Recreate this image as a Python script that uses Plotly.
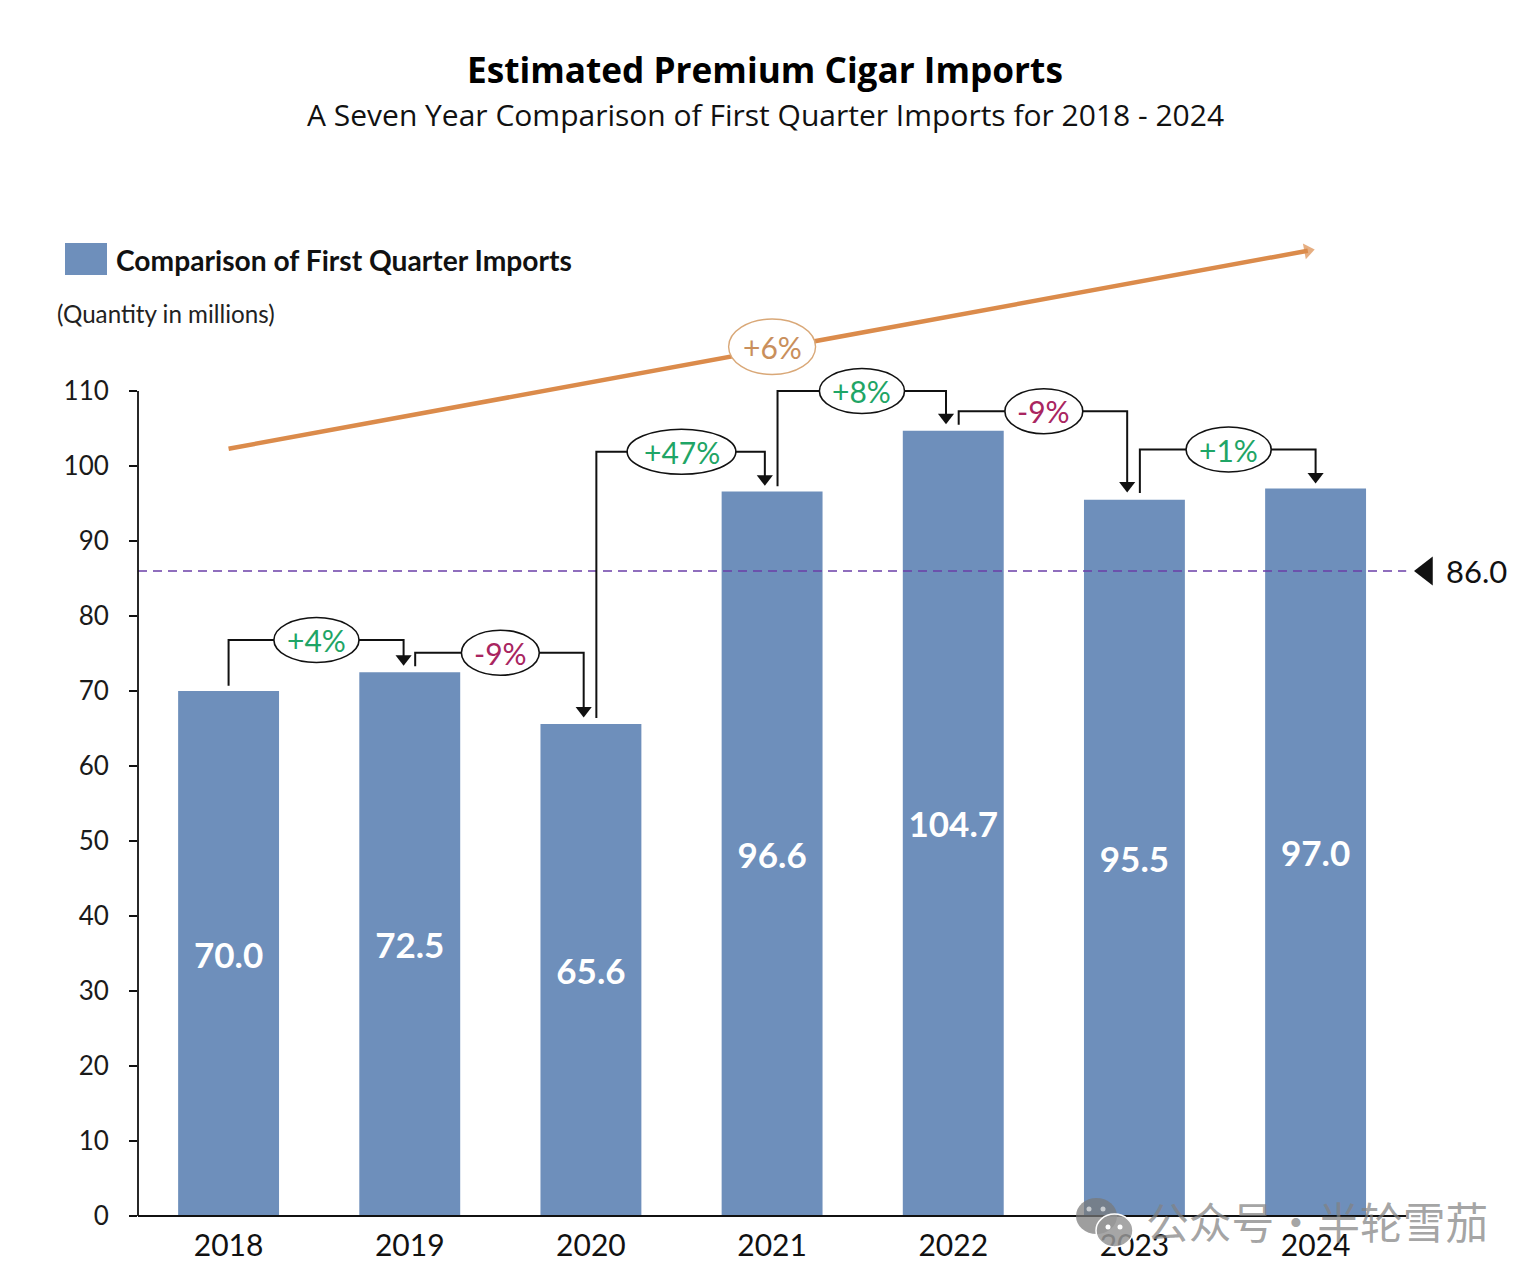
import plotly.graph_objects as go

# ---- data ----
years = ["2018", "2019", "2020", "2021", "2022", "2023", "2024"]
year_pos = [0, 1, 2, 3, 4, 5, 6]
imports_m = [70.0, 72.5, 65.6, 96.6, 104.7, 95.5, 97.0]
value_labels = ["70.0", "72.5", "65.6", "96.6", "104.7", "95.5", "97.0"]
y_ticks = [0, 10, 20, 30, 40, 50, 60, 70, 80, 90, 100, 110]
average = 86.0
average_label = "86.0"
change_labels = ["+4%", "-9%", "+47%", "+8%", "-9%", "+1%"]
overall_label = "+6%"
title_text = "Estimated Premium Cigar Imports"
subtitle_text = "A Seven Year Comparison of First Quarter Imports for 2018 - 2024"
legend_text = "Comparison of First Quarter Imports"
unit_text = "(Quantity in millions)"
watermark_text = "公众号・半轮雪茄"

# connector geometry in data units
conn_x0 = [0.00, 1.03, 2.03, 3.03, 4.03, 5.03]
conn_y0 = [70.7, 73.3, 66.4, 97.3, 105.5, 96.4]
conn_lvl = [76.8, 75.1, 101.9, 110.0, 107.3, 102.2]
conn_x1 = [0.966, 1.96, 2.96, 3.96, 4.96, 6.0]
conn_y1 = [73.3, 66.4, 97.3, 105.5, 96.4, 97.6]
bubble_x = [0.485, 1.50, 2.50, 3.496, 4.50, 5.52]
bubble_w = [0.47, 0.43, 0.60, 0.47, 0.43, 0.47]
trend_x = [0.0, 5.957]
trend_y = [102.3, 128.7]
overall_x = 3.0
overall_y = 115.9

# ---- style ----
BAR = "#6E8FBB"
INK = "#111111"
GREEN = "#1FA566"
RED = "#A92560"
ORANGE = "#DB8B4B"
W, H = 1536, 1282
# the plotting area reaches past the last tick so that the trend arrow and the
# 86.0 marker stay on the data scale; the axis lines stop at 110 and at 2024's band
L, R, T, B = 138, 3, 16, 66
PW, PH = W - L - R, H - T - B
px = lambda p: (p - L) / PW
py = lambda p: (H - B - p) / PH
SANS = "Lato"
HEAD = "Open Sans"

fig = go.Figure()
fig.add_bar(
    x=year_pos, y=imports_m, width=0.557, marker=dict(color=BAR, line=dict(width=0)),
    text=value_labels, textposition="inside", insidetextanchor="middle", textangle=0,
    constraintext="none",
    textfont=dict(family=SANS, size=35, color="white", weight="bold"),
    showlegend=False,
)

# dashed reference line and its marker
fig.add_scatter(x=[-0.5, 6.5], y=[average, average], mode="lines", showlegend=False,
                line=dict(color="#6B3FA8", width=1.7, dash="9px,6px"))
fig.add_scatter(x=[6.612], y=[average], mode="markers", showlegend=False,
                marker=dict(symbol="triangle-left", color=INK, size=25, line=dict(width=0)))

# trend arrow
fig.add_scatter(x=trend_x, y=trend_y, mode="lines+markers", showlegend=False,
                line=dict(color=ORANGE, width=4.5),
                marker=dict(symbol=["circle", "triangle-up"], size=[0.1, 14], color=ORANGE,
                            angleref="previous", line=dict(width=0)))

shapes = [
    dict(type="line", xref="paper", yref="y", x0=0, x1=0, y0=0, y1=110, layer="above",
         line=dict(color=INK, width=1.8)),
    dict(type="line", xref="x", yref="paper", x0=-0.5, x1=6.5, y0=0, y1=0, layer="above",
         line=dict(color=INK, width=1.8)),
]
annos = []
for i, lab in enumerate(change_labels):
    fig.add_scatter(
        x=[conn_x0[i], conn_x0[i], conn_x1[i], conn_x1[i]],
        y=[conn_y0[i], conn_lvl[i], conn_lvl[i], conn_y1[i] + 1.0],
        mode="lines", showlegend=False,
        line=dict(color=INK, width=2))
    fig.add_scatter(x=[conn_x1[i]], y=[conn_y1[i] + 1.0], mode="markers", showlegend=False,
                    marker=dict(symbol="triangle-down", color=INK, size=14, line=dict(width=0)))
    bh = 3.0
    shapes.append(dict(type="circle", xref="x", yref="y", layer="above",
                       x0=bubble_x[i] - bubble_w[i] / 2, x1=bubble_x[i] + bubble_w[i] / 2,
                       y0=conn_lvl[i] - bh, y1=conn_lvl[i] + bh,
                       fillcolor="white", line=dict(color=INK, width=1.6)))
    annos.append(dict(x=bubble_x[i], y=conn_lvl[i], xref="x", yref="y", text=lab, showarrow=False,
                      xanchor="center", yanchor="middle",
                      font=dict(family=SANS, size=30, color=GREEN if lab[0] == "+" else RED)))

shapes.append(dict(type="circle", xref="x", yref="y", layer="above",
                   x0=overall_x - 0.24, x1=overall_x + 0.24,
                   y0=overall_y - 3.7, y1=overall_y + 3.7,
                   fillcolor="white", line=dict(color="#D9A878", width=1.4)))
annos.append(dict(x=overall_x, y=overall_y, xref="x", yref="y", text=overall_label, showarrow=False,
                  xanchor="center", yanchor="middle",
                  font=dict(family=SANS, size=30, color="#C98F5C")))

annos.append(dict(x=6.887, y=average, xref="x", yref="y", text=average_label, showarrow=False,
                  xanchor="center", yanchor="middle",
                  font=dict(family=SANS, size=31, color=INK)))

# headings
annos += [
    dict(x=px(764.5), y=py(69), xref="paper", yref="paper", xanchor="center", yanchor="middle",
         text=f"<b>{title_text}</b>", showarrow=False,
         font=dict(family=HEAD, size=35.2, color="#000000")),
    dict(x=px(765), y=py(114), xref="paper", yref="paper", xanchor="center", yanchor="middle",
         text=subtitle_text, showarrow=False,
         font=dict(family=HEAD, size=30, color="#111111")),
    dict(x=px(114), y=py(260), xref="paper", yref="paper", xanchor="left", yanchor="middle",
         text=f"<b>{legend_text}</b>",
         showarrow=False, font=dict(family=SANS, size=28.2, color="#111111")),
    dict(x=px(55), y=py(313), xref="paper", yref="paper", xanchor="left", yanchor="middle", text=unit_text,
         showarrow=False, font=dict(family=SANS, size=24.2, color="#222222")),
    dict(x=px(1144), y=py(1220), xref="paper", yref="paper", xanchor="left", yanchor="middle",
         text=watermark_text,
         showarrow=False, font=dict(family="Noto Sans CJK SC", size=42.8, color="rgba(130,130,130,0.72)")),
]
shapes.append(dict(type="rect", xref="paper", yref="paper", x0=px(65), x1=px(107), y0=py(275), y1=py(243),
                   fillcolor=BAR, line=dict(width=0), layer="above"))

# watermark icon
GR = "rgba(120,120,120,0.72)"
shapes += [
    dict(type="circle", xref="paper", yref="paper", x0=px(1076), x1=px(1117), y0=py(1234), y1=py(1198),
         fillcolor=GR, line=dict(width=0), layer="above"),
    dict(type="circle", xref="paper", yref="paper", x0=px(1096), x1=px(1133), y0=py(1247), y1=py(1214),
         fillcolor="rgba(150,150,150,0.85)", line=dict(color="white", width=1.5), layer="above"),
]
for cx, cy, col in [(1089, 1209, "rgba(255,255,255,0.6)"), (1103, 1209, "rgba(255,255,255,0.6)"),
                    (1108, 1227, "white"), (1120, 1227, "white")]:
    shapes.append(dict(type="circle", xref="paper", yref="paper", x0=px(cx - 2.5), x1=px(cx + 2.5),
                       y0=py(cy + 2.5), y1=py(cy - 2.5), fillcolor=col, line=dict(width=0), layer="above"))

fig.update_layout(
    width=W, height=H, margin=dict(l=L, r=R, t=T, b=B, pad=0),
    paper_bgcolor="white", plot_bgcolor="white", shapes=shapes, annotations=annos,
    showlegend=False,
    xaxis=dict(range=[-0.5, 7.2], tickvals=year_pos, ticktext=years,
               showgrid=False, zeroline=False, showline=False, ticks="",
               ticklabelstandoff=9, tickfont=dict(family=SANS, size=30, color=INK)),
    yaxis=dict(range=[0, 160], tickvals=y_ticks, showgrid=False, zeroline=False, showline=False,
               ticks="outside", ticklen=8, tickwidth=1.5, tickcolor=INK,
               ticklabelstandoff=15, tickfont=dict(family=SANS, size=26, color="#1a1a1a")),
)
fig.write_html("out.html", post_script="document.body.style.margin='0';",
               config=dict(displayModeBar=False))
